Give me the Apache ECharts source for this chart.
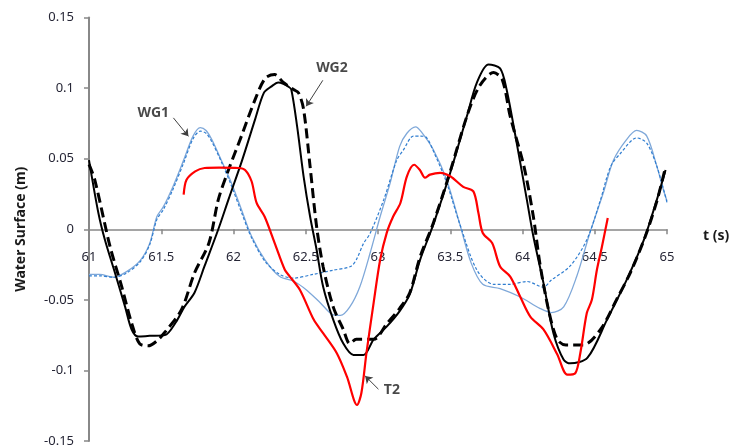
<!DOCTYPE html>
<html>
<head>
<meta charset="utf-8">
<script src="https://cdn.jsdelivr.net/npm/echarts@6/dist/echarts.min.js"></script>
<style>
html,body{margin:0;padding:0;background:#fff;}
#chart{width:730px;height:445px;}
</style>
</head>
<body>
<div id="chart"></div>
<script>
// ---- data: [time (s), water surface (m)] ----
const wg1Solid = [[61.0,-0.032],[61.075,-0.032],[61.17,-0.034],[61.26,-0.030],[61.355,-0.022],[61.42,-0.010],[61.47,0.009],[61.515,0.016],[61.58,0.030],[61.655,0.049],[61.72,0.066],[61.77,0.072],[61.81,0.070],[61.85,0.0635],[61.915,0.049],[61.985,0.033],[62.055,0.014],[62.125,-0.005],[62.22,-0.022],[62.32,-0.0335],[62.42,-0.037],[62.505,-0.043],[62.6,-0.052],[62.69,-0.0606],[62.74,-0.061],[62.805,-0.055],[62.875,-0.0405],[62.945,-0.017],[63.015,0.009],[63.085,0.033],[63.15,0.0587],[63.2,0.068],[63.26,0.0725],[63.3,0.069],[63.385,0.056],[63.475,0.035],[63.565,0.004],[63.645,-0.024],[63.725,-0.039],[63.845,-0.042],[63.985,-0.048],[64.12,-0.056],[64.2,-0.059],[64.285,-0.055],[64.375,-0.0335],[64.465,-0.003],[64.56,0.026],[64.63,0.049],[64.72,0.0635],[64.79,0.070],[64.86,0.066],[64.93,0.0445],[64.975,0.028],[65.0,0.020]];
const wg1Dashed = [[61.0,-0.033],[61.075,-0.033],[61.17,-0.034],[61.26,-0.031],[61.355,-0.023],[61.42,-0.011],[61.47,0.007],[61.515,0.014],[61.58,0.028],[61.655,0.047],[61.72,0.064],[61.77,0.0695],[61.81,0.068],[61.85,0.062],[61.915,0.048],[61.985,0.031],[62.055,0.012],[62.125,-0.006],[62.22,-0.023],[62.32,-0.032],[62.415,-0.0346],[62.55,-0.032],[62.69,-0.029],[62.81,-0.0264],[62.85,-0.0216],[62.9,-0.010],[62.945,-0.003],[63.04,0.021],[63.13,0.049],[63.175,0.056],[63.245,0.066],[63.29,0.066],[63.335,0.065],[63.385,0.055],[63.475,0.033],[63.565,0.004],[63.685,-0.029],[63.8,-0.039],[63.915,-0.039],[64.03,-0.037],[64.145,-0.041],[64.2,-0.036],[64.33,-0.026],[64.445,-0.0075],[64.54,0.021],[64.61,0.0445],[64.68,0.054],[64.79,0.0647],[64.86,0.061],[64.93,0.0445],[65.0,0.019]];
const wg2Solid = [[61.0,0.049],[61.065,0.0115],[61.11,-0.0075],[61.18,-0.031],[61.25,-0.055],[61.295,-0.071],[61.34,-0.076],[61.42,-0.0755],[61.525,-0.075],[61.6,-0.066],[61.66,-0.055],[61.73,-0.045],[61.80,-0.026],[61.895,0.0],[61.965,0.021],[62.06,0.049],[62.15,0.078],[62.21,0.0966],[62.26,0.101],[62.31,0.104],[62.345,0.103],[62.38,0.101],[62.40,0.099],[62.44,0.073],[62.485,0.0375],[62.53,0.009],[62.575,-0.0145],[62.62,-0.0405],[62.69,-0.064],[62.76,-0.081],[62.83,-0.089],[62.90,-0.089],[62.97,-0.078],[63.06,-0.069],[63.15,-0.058],[63.22,-0.046],[63.29,-0.022],[63.385,0.004],[63.5,0.040],[63.615,0.080],[63.685,0.104],[63.765,0.1167],[63.845,0.114],[63.89,0.099],[63.96,0.061],[64.03,0.021],[64.075,-0.005],[64.145,-0.038],[64.215,-0.074],[64.285,-0.0925],[64.33,-0.095],[64.45,-0.091],[64.585,-0.064],[64.72,-0.036],[64.84,-0.0075],[64.93,0.021],[64.99,0.042]];
const wg2Dashed = [[61.0,0.046],[61.04,0.035],[61.145,-0.012],[61.226,-0.0405],[61.295,-0.0665],[61.35,-0.081],[61.41,-0.0826],[61.465,-0.0795],[61.525,-0.073],[61.64,-0.057],[61.73,-0.031],[61.83,-0.0098],[61.895,0.021],[61.965,0.042],[62.055,0.066],[62.15,0.092],[62.22,0.107],[62.285,0.1096],[62.345,0.104],[62.415,0.099],[62.45,0.0966],[62.485,0.085],[62.53,0.0445],[62.575,0.002],[62.62,-0.0264],[62.69,-0.055],[62.76,-0.071],[62.805,-0.081],[62.85,-0.078],[62.97,-0.078],[63.06,-0.067],[63.15,-0.056],[63.22,-0.045],[63.29,-0.020],[63.385,0.005],[63.5,0.041],[63.615,0.080],[63.7,0.101],[63.8,0.111],[63.86,0.106],[63.915,0.080],[64.01,0.0445],[64.075,0.009],[64.12,-0.024],[64.18,-0.057],[64.24,-0.078],[64.3,-0.082],[64.42,-0.082],[64.54,-0.071],[64.65,-0.050],[64.75,-0.030],[64.85,-0.005],[64.93,0.020],[64.99,0.044]];
const t2 = [[61.655,0.0245],[61.675,0.035],[61.735,0.041],[61.80,0.0434],[61.9,0.0437],[62.035,0.0434],[62.08,0.042],[62.125,0.034],[62.16,0.0186],[62.215,0.009],[62.285,-0.0098],[62.355,-0.0287],[62.39,-0.0335],[62.46,-0.043],[62.555,-0.064],[62.62,-0.0736],[62.715,-0.0878],[62.785,-0.1044],[62.855,-0.1245],[62.885,-0.116],[62.92,-0.0878],[62.97,-0.052],[63.015,-0.0216],[63.06,-0.0027],[63.105,0.009],[63.155,0.0186],[63.2,0.0375],[63.25,0.0457],[63.29,0.042],[63.325,0.0365],[63.36,0.0387],[63.43,0.040],[63.5,0.0375],[63.59,0.030],[63.66,0.0268],[63.695,0.0115],[63.725,-0.0027],[63.79,-0.0098],[63.845,-0.0264],[63.915,-0.0335],[63.985,-0.048],[64.055,-0.062],[64.145,-0.071],[64.24,-0.0885],[64.31,-0.103],[64.365,-0.102],[64.40,-0.0878],[64.445,-0.0594],[64.48,-0.050],[64.515,-0.0287],[64.55,-0.0122],[64.59,0.008]];

// annotation labels and arrows (in data coordinates)
const noteLabels = [
  {name:'WG1', value:[61.445,0.0824]},
  {name:'WG2', value:[62.681,0.1143]},
  {name:'T2',  value:[63.096,-0.1138]}
];
const noteArrows = [
  [[61.584,0.0789],[61.688,0.0658]],
  [[62.618,0.1055],[62.503,0.0871]],
  [[63.003,-0.1133],[62.911,-0.1039]]
];

// axis settings
const xMin = 61, xMax = 65, xStep = 0.5;
const yMin = -0.15, yMax = 0.15, yStep = 0.05;
const xName = 't (s)';
const yName = 'Water Surface (m)';

const GRID_TOP = 17.5, GRID_BOTTOM = 4, H = 445;
const gridHeight = H - GRID_TOP - GRID_BOTTOM;
// place the x axis (line, ticks, labels) on y = 0
const xAxisOffset = -gridHeight * (0 - yMin) / (yMax - yMin);

const chart = echarts.init(document.getElementById('chart'), null, {renderer:'canvas'});
const FONT = 'Noto Sans';
chart.setOption({
  animation: false,
  backgroundColor: '#ffffff',
  grid: {left: 89, right: 63, top: GRID_TOP, bottom: GRID_BOTTOM, containLabel: false, outerBoundsMode: 'none'},
  xAxis: {
    type: 'value', min: xMin, max: xMax, interval: xStep,
    position: 'bottom', offset: xAxisOffset,
    name: xName, nameLocation: 'end', nameGap: 36,
    nameTextStyle: {fontFamily: FONT, fontWeight: 'bold', fontSize: 14, color: '#1a1a1a', verticalAlign: 'top'},
    axisLine: {show: true, onZero: false, lineStyle: {color: '#888888', width: 1.5}},
    axisTick: {show: true, length: 5, lineStyle: {color: '#888888', width: 1.5}},
    axisLabel: {margin: 22, fontFamily: FONT, fontSize: 13, color: '#262636'},
    splitLine: {show: false}
  },
  yAxis: {
    type: 'value', min: yMin, max: yMax, interval: yStep,
    name: yName, nameLocation: 'middle', nameGap: 61,
    nameTextStyle: {fontFamily: FONT, fontWeight: 'bold', fontSize: 14, color: '#1a1a1a'},
    axisLine: {show: true, onZero: false, lineStyle: {color: '#888888', width: 2}},
    axisTick: {show: true, length: 5, lineStyle: {color: '#888888', width: 1.5}},
    axisLabel: {margin: 15, fontFamily: FONT, fontSize: 13, color: '#262636'},
    splitLine: {show: false}
  },
  series: [
    {name:'WG1 (solid)', type:'line', data: wg1Solid, smooth: 0.3, showSymbol:false, symbol:'none',
     lineStyle:{color:'#7fa8d9', width:1.3}},
    {name:'WG1 (dashed)', type:'line', data: wg1Dashed, smooth: 0.3, showSymbol:false, symbol:'none',
     lineStyle:{color:'#2f7dd0', width:1.2, type:[3,2]}},
    {name:'WG2 (dashed)', type:'line', data: wg2Dashed, smooth: 0.3, showSymbol:false, symbol:'none',
     lineStyle:{color:'#000000', width:3, type:[10,5]}},
    {name:'WG2 (solid)', type:'line', data: wg2Solid, smooth: 0.3, showSymbol:false, symbol:'none',
     lineStyle:{color:'#000000', width:2}},
    {name:'T2', type:'line', data: t2, smooth: 0.3, showSymbol:false, symbol:'none',
     lineStyle:{color:'#ff0000', width:2.2}},
    {name:'arrows', type:'lines', coordinateSystem:'cartesian2d', polyline:false,
     symbol:['none','arrow'], symbolSize:7,
     lineStyle:{color:'#404040', width:1, opacity:1},
     data: noteArrows.map(c => ({coords: c}))},
    {name:'labels', type:'scatter', data: noteLabels, symbolSize: 1,
     itemStyle:{color:'rgba(0,0,0,0)'},
     label:{show:true, position:'inside', formatter:'{b}', fontFamily: FONT, fontWeight:'bold', fontSize:14, color:'#1a1a1a'}}
  ]
});
</script>
</body>
</html>
